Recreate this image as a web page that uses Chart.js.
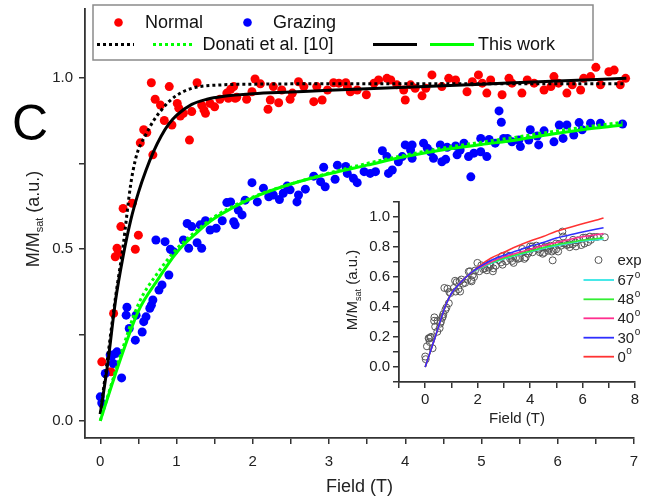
<!DOCTYPE html>
<html><head><meta charset="utf-8">
<script src="https://cdn.jsdelivr.net/npm/chart.js@4.4.1/dist/chart.umd.min.js"></script>
<style>
html,body{margin:0;padding:0;background:#fff;}
#wrap{position:relative;width:653px;height:498px;overflow:hidden;background:#fff;}
#main{position:absolute;left:0;top:0;width:653px;height:498px;}
#inset{position:absolute;left:340px;top:190px;width:313px;height:250px;}
</style></head><body>
<div id="wrap"><canvas id="main" width="653" height="498"></canvas><canvas id="inset" width="313" height="250"></canvas></div>
<script>
// ---------- Main panel data ----------
const normalField = [0.02,0.14,0.175,0.197,0.22,0.24,0.27,0.30,0.42,0.46,0.50,0.525,0.57,0.61,0.69,0.67,0.72,0.79,0.84,0.905,0.94,1.01,1.03,1.05,1.09,1.17,1.20,1.27,1.33,1.36,1.38,1.44,1.50,1.57,1.66,1.68,1.71,1.75,1.77,1.79,1.92,1.99,2.03,2.10,2.20,2.23,2.27,2.34,2.38,2.49,2.52,2.60,2.67,2.80,2.84,2.91,2.98,3.06,3.13,3.22,3.24,3.28,3.37,3.49,3.59,3.65,3.76,3.81,3.89,3.98,4.00,4.07,4.13,4.22,4.27,4.35,4.48,4.57,4.66,4.81,4.88,4.96,5.01,5.07,5.12,5.27,5.36,5.40,5.53,5.60,5.69,5.82,5.91,5.95,6.01,6.12,6.19,6.30,6.34,6.43,6.50,6.56,6.67,6.74,6.82,6.89];
const normalM = [0.172,0.143,0.313,0.478,0.503,0.488,0.566,0.619,0.634,0.50,0.541,0.81,0.848,0.84,0.775,0.985,0.937,0.92,0.875,0.974,0.862,0.925,0.911,0.888,0.896,0.818,0.901,0.985,0.920,0.906,0.896,0.925,0.915,0.937,0.955,0.94,0.966,0.974,0.94,0.943,0.937,0.959,0.996,0.982,0.908,0.935,0.974,0.927,0.964,0.937,0.955,0.988,0.974,0.93,0.974,0.935,0.964,0.985,0.984,0.985,0.974,0.959,0.964,0.95,0.984,0.993,0.998,0.993,0.979,0.964,0.935,0.979,0.969,0.947,0.969,1.008,0.974,0.998,0.993,0.959,0.988,1.008,0.984,0.955,0.993,0.95,0.998,0.984,0.955,0.993,0.984,0.964,0.974,1.003,0.984,0.955,0.979,0.964,0.998,1.003,1.03,0.979,1.017,1.022,0.979,0.998];

const grazingField = [0.00,0.02,0.066,0.13,0.15,0.17,0.20,0.22,0.28,0.35,0.34,0.38,0.46,0.47,0.55,0.57,0.60,0.65,0.67,0.69,0.77,0.81,0.90,0.73,0.85,0.92,0.96,1.09,1.16,1.14,1.20,1.27,1.31,1.33,1.38,1.44,1.52,1.60,1.66,1.71,1.75,1.77,1.81,1.86,1.90,1.99,2.06,2.14,2.21,2.27,2.35,2.40,2.45,2.49,2.58,2.60,2.69,2.80,2.89,2.93,2.95,3.08,3.11,3.22,3.24,3.32,3.37,3.46,3.54,3.61,3.70,3.76,3.78,3.83,3.91,3.96,4.00,4.09,4.07,4.09,4.24,4.29,4.33,4.37,4.46,4.48,4.53,4.55,4.66,4.68,4.72,4.77,4.83,4.86,4.90,4.99,4.99,5.07,5.10,5.18,5.23,5.26,5.29,5.34,5.40,5.49,5.51,5.62,5.64,5.73,5.75,5.82,5.95,6.02,6.07,6.12,6.21,6.28,6.32,6.43,6.56,6.85];
const grazingM = [0.070,0.052,0.138,0.192,0.189,0.167,0.196,0.201,0.125,0.331,0.308,0.269,0.235,0.308,0.259,0.289,0.303,0.328,0.337,0.352,0.381,0.396,0.425,0.527,0.522,0.50,0.493,0.527,0.503,0.575,0.566,0.519,0.571,0.503,0.583,0.556,0.561,0.583,0.636,0.638,0.580,0.571,0.614,0.60,0.643,0.694,0.638,0.678,0.653,0.658,0.645,0.663,0.684,0.673,0.638,0.658,0.675,0.713,0.697,0.739,0.682,0.704,0.745,0.741,0.721,0.707,0.694,0.726,0.721,0.726,0.787,0.770,0.721,0.731,0.755,0.770,0.804,0.804,0.789,0.765,0.809,0.794,0.784,0.765,0.804,0.755,0.762,0.797,0.801,0.775,0.789,0.809,0.770,0.711,0.780,0.784,0.823,0.770,0.820,0.809,0.903,0.870,0.823,0.823,0.813,0.818,0.799,0.818,0.848,0.830,0.804,0.845,0.813,0.862,0.823,0.862,0.833,0.869,0.848,0.867,0.867,0.865];

// Donati et al. [10] (dotted)
const donatiNormalField = [0,0.1,0.2,0.3,0.4,0.46,0.5,0.6,0.7,0.8,0.9,1.0,1.2,1.6,2,3,4,5,6,6.9];
const donatiNormal      = [0.02,0.19,0.36,0.51,0.69,0.76,0.79,0.835,0.875,0.905,0.93,0.948,0.969,0.979,0.981,0.982,0.982,0.982,0.982,0.982];
const donatiGrazingField = [0,0.25,0.5,0.75,1,1.25,1.5,2,2.5,3,3.5,4,4.5,5,5.5,6,6.5,6.85];
const donatiGrazing      = [0,0.18,0.34,0.43,0.5,0.552,0.595,0.652,0.69,0.722,0.75,0.774,0.795,0.812,0.828,0.845,0.86,0.87];
// This work (solid)
const workNormalField = [0,0.1,0.2,0.3,0.4,0.5,0.6,0.7,0.8,0.9,1.0,1.2,1.4,1.6,2.0,2.5,3,4,5,6,6.9];
const workNormal      = [0.02,0.17,0.35,0.48,0.585,0.665,0.73,0.785,0.83,0.865,0.89,0.922,0.937,0.945,0.953,0.958,0.963,0.972,0.981,0.99,0.998];
const workGrazingField = [0,0.25,0.5,0.75,1,1.25,1.5,2,2.5,3,3.5,4,4.5,5,5.5,6,6.5,6.85];
const workGrazing      = [0,0.17,0.32,0.41,0.49,0.545,0.59,0.65,0.69,0.72,0.745,0.77,0.79,0.805,0.82,0.838,0.853,0.862];

const mainXTicks = [0,0.5,1,1.5,2,2.5,3,3.5,4,4.5,5,5.5,6,6.5,7];
const mainYTicks = [0,0.25,0.5,0.75,1.0];

// ---------- Inset data ----------
const insetField = [0,0.2,0.4,0.6,0.8,1.0,1.2,1.5,1.8,2.0,2.5,3.0,3.5,4.0,4.5,5.0,5.5,6.0,6.5,6.8];
const inset0  = [0,0.105,0.21,0.32,0.42,0.49,0.535,0.59,0.635,0.665,0.725,0.765,0.805,0.84,0.87,0.905,0.93,0.955,0.978,0.993];
const inset30 = [0,0.105,0.21,0.32,0.42,0.49,0.535,0.59,0.635,0.66,0.71,0.745,0.775,0.805,0.83,0.86,0.88,0.90,0.918,0.928];
const inset40 = [0,0.105,0.21,0.32,0.42,0.49,0.535,0.59,0.635,0.655,0.70,0.735,0.76,0.785,0.81,0.83,0.85,0.868,0.882,0.89];
const inset48 = [0,0.105,0.21,0.32,0.42,0.49,0.535,0.59,0.635,0.652,0.695,0.725,0.75,0.772,0.795,0.815,0.83,0.845,0.855,0.862];
const inset67 = [0,0.105,0.21,0.32,0.42,0.49,0.535,0.59,0.635,0.65,0.69,0.72,0.745,0.768,0.79,0.808,0.825,0.84,0.848,0.851];
const insetXTicks = [-1,0,1,2,3,4,5,6,7,8];
const insetYTicks = [-0.1,0,0.1,0.2,0.3,0.4,0.5,0.6,0.7,0.8,0.9,1.0,1.1];

const FONT = '"Liberation Sans", Arial, Helvetica, sans-serif';
const zip = (xs, ys) => xs.map((x, i) => ({x: x, y: ys[i]}));

function pts(xs, ys, color, r) {
  return {data: zip(xs, ys), showLine: false, pointRadius: r, pointHoverRadius: r,
    pointBackgroundColor: color, pointBorderWidth: 0, backgroundColor: color, borderColor: color};
}
function curve(xs, ys, color, width, dash) {
  return {data: zip(xs, ys), showLine: true, pointRadius: 0, pointHoverRadius: 0,
    borderColor: color, backgroundColor: color, borderWidth: width, borderDash: dash || [],
    cubicInterpolationMode: 'monotone', fill: false};
}

function drawYTitle(ctx, cx, cy, size) {
  ctx.save();
  ctx.translate(cx, cy);
  ctx.rotate(-Math.PI / 2);
  const f = size + 'px ' + FONT;
  const fs = Math.round(size * 0.62) + 'px ' + FONT;
  ctx.font = f; const w1 = ctx.measureText('M/M').width; const w3 = ctx.measureText(' (a.u.)').width;
  ctx.font = fs; const w2 = ctx.measureText('sat').width;
  let x = -(w1 + w2 + w3) / 2;
  const base = size * 0.36;
  ctx.fillStyle = '#222'; ctx.textAlign = 'left'; ctx.textBaseline = 'alphabetic';
  ctx.font = f; ctx.fillText('M/M', x, base); x += w1;
  ctx.font = fs; ctx.fillText('sat', x, base + size * 0.22); x += w2;
  ctx.font = f; ctx.fillText(' (a.u.)', x, base);
  ctx.restore();
}

const mainDecor = {
  id: 'mainDecor',
  afterDraw(chart) {
    const ctx = chart.ctx;
    ctx.save();
    // legend box
    ctx.strokeStyle = '#8a8a8a'; ctx.lineWidth = 1.5;
    ctx.strokeRect(93, 5, 500, 55);
    ctx.font = '18px ' + FONT; ctx.fillStyle = '#111'; ctx.textBaseline = 'middle'; ctx.textAlign = 'left';
    // row 1
    ctx.fillStyle = '#ff0000'; ctx.beginPath(); ctx.arc(118.5, 22.5, 4.3, 0, Math.PI * 2); ctx.fill();
    ctx.fillStyle = '#0000ff'; ctx.beginPath(); ctx.arc(247.5, 22.5, 4.3, 0, Math.PI * 2); ctx.fill();
    ctx.fillStyle = '#111';
    ctx.fillText('Normal', 145, 23);
    ctx.fillText('Grazing', 273, 23);
    // row 2
    const y2 = 44.5;
    ctx.lineWidth = 3;
    ctx.setLineDash([3, 3]);
    ctx.strokeStyle = '#000'; ctx.beginPath(); ctx.moveTo(97, y2); ctx.lineTo(134, y2); ctx.stroke();
    ctx.strokeStyle = '#00ff00'; ctx.beginPath(); ctx.moveTo(153, y2); ctx.lineTo(194, y2); ctx.stroke();
    ctx.setLineDash([]);
    ctx.strokeStyle = '#000'; ctx.beginPath(); ctx.moveTo(373, y2); ctx.lineTo(417, y2); ctx.stroke();
    ctx.strokeStyle = '#00ff00'; ctx.beginPath(); ctx.moveTo(430, y2); ctx.lineTo(474, y2); ctx.stroke();
    ctx.fillText('Donati et al. [10]', 202.5, y2 + 0.5);
    ctx.fillText('This work', 478, y2 + 0.5);
    // panel letter
    ctx.font = '50px ' + FONT; ctx.fillStyle = '#000';
    ctx.fillText('C', 12, 126);
    ctx.restore();
    drawYTitle(ctx, 33, 219, 18);
  }
};

new Chart(document.getElementById('main'), {
  type: 'scatter',
  data: {datasets: [
    curve(workGrazingField, workGrazing, '#00ff00', 3),
    curve(workNormalField, workNormal, '#000000', 3),
    curve(donatiGrazingField, donatiGrazing, '#00ff00', 3, [3, 3]),
    curve(donatiNormalField, donatiNormal, '#000000', 3, [3, 3]),
    pts(grazingField, grazingM, '#0000ff', 4.5),
    pts(normalField, normalM, '#ff0000', 4.5)
  ]},
  options: {
    responsive: false, animation: false, devicePixelRatio: 1,
    layout: {padding: {left: 0, top: 9, right: 19, bottom: 0}},
    plugins: {legend: {display: false}, tooltip: {enabled: false}},
    scales: {
      x: {
        type: 'linear', min: -0.2, max: 7,
        afterBuildTicks: s => { s.ticks = mainXTicks.map(v => ({value: v})); },
        afterFit: s => { s.height = 60; },
        ticks: {font: {size: 15, family: FONT}, color: '#222', padding: 9, maxRotation: 0, autoSkip: false,
          callback: v => (Math.abs(v - Math.round(v)) < 1e-9 ? String(Math.round(v)) : '')},
        grid: {drawOnChartArea: false, drawTicks: true, tickLength: 6, color: '#333', lineWidth: 1.5},
        border: {display: true, color: '#333', width: 1.8},
        title: {display: true, text: 'Field (T)', font: {size: 18, family: FONT}, color: '#222', padding: {top: 0, bottom: 0}}
      },
      y: {
        type: 'linear', min: -0.05, max: 1.2,
        afterBuildTicks: s => { s.ticks = mainYTicks.map(v => ({value: v})); },
        afterFit: s => { s.width = 85; s.paddingTop = 0; s.paddingBottom = 0; },
        ticks: {font: {size: 15, family: FONT}, color: '#222', padding: 6, autoSkip: false,
          callback: v => (Math.abs(v * 2 - Math.round(v * 2)) < 1e-9 ? v.toFixed(1) : '')},
        grid: {drawOnChartArea: false, drawTicks: true, tickLength: 6, color: '#333', lineWidth: 1.5},
        border: {display: true, color: '#333', width: 1.8}
      }
    }
  },
  plugins: [mainDecor]
});

// ---------- Inset ----------
const insetDecor = {
  id: 'insetDecor',
  afterDraw(chart) {
    const ctx = chart.ctx;
    drawYTitle(ctx, 12, 100, 15);
    ctx.save();
    ctx.font = '15px ' + FONT; ctx.fillStyle = '#222'; ctx.textAlign = 'left'; ctx.textBaseline = 'middle';
    ctx.strokeStyle = '#555'; ctx.lineWidth = 1;
    ctx.beginPath(); ctx.arc(258.5, 70, 3.5, 0, Math.PI * 2); ctx.stroke();
    ctx.fillText('exp', 277.5, 71);
    const items = [['67', '#33e6e6', 90], ['48', '#33ee33', 109.3], ['40', '#ff2f8f', 128.3], ['30', '#2f2fff', 147.7], ['0', '#ff3333', 166.7]];
    items.forEach(([lab, col, y]) => {
      ctx.strokeStyle = col; ctx.lineWidth = 1.8;
      ctx.beginPath(); ctx.moveTo(243.5, y); ctx.lineTo(274, y); ctx.stroke();
      ctx.font = '15px ' + FONT; ctx.fillStyle = '#222';
      ctx.fillText(lab, 277.5, y + 1);
      const w = ctx.measureText(lab).width;
      ctx.font = '10px ' + FONT;
      ctx.fillText('o', 277.5 + w + 0.5, y - 5);
    });
    ctx.restore();
  }
};

new Chart(document.getElementById('inset'), {
  type: 'scatter',
  data: {datasets: [
    curve(insetField, inset30, '#2f2fff', 1.5),
    curve(insetField, inset0, '#ff3333', 1.5),
    curve(insetField, inset40, '#ff2f8f', 1.5),
    curve(insetField, inset48, '#33ee33', 1.5),
    curve(insetField, inset67, '#33e6e6', 1.5),
    {data: zip(grazingField, grazingM), showLine: false, pointRadius: 3.5, pointHoverRadius: 3.5,
      pointBackgroundColor: 'rgba(0,0,0,0)', pointBorderColor: '#555', pointBorderWidth: 1}
  ]},
  options: {
    responsive: false, animation: false, devicePixelRatio: 1,
    layout: {padding: {left: 0, top: 7, right: 18, bottom: 0}},
    plugins: {legend: {display: false}, tooltip: {enabled: false}},
    scales: {
      x: {
        type: 'linear', min: -1, max: 8,
        afterBuildTicks: s => { s.ticks = insetXTicks.map(v => ({value: v})); },
        afterFit: s => { s.height = 58; },
        ticks: {font: {size: 15, family: FONT}, color: '#222', padding: 3, maxRotation: 0, autoSkip: false,
          callback: v => (v >= 0 && Math.round(v) % 2 === 0 ? String(Math.round(v)) : '')},
        grid: {drawOnChartArea: false, drawTicks: true, tickLength: 6, color: '#333', lineWidth: 1.5},
        border: {display: true, color: '#333', width: 1.8},
        title: {display: true, text: 'Field (T)', font: {size: 15, family: FONT}, color: '#222', padding: {top: 0, bottom: 12}}
      },
      y: {
        type: 'linear', min: -0.1, max: 1.1,
        afterBuildTicks: s => { s.ticks = insetYTicks.map(v => ({value: v})); },
        afterFit: s => { s.width = 59; },
        ticks: {font: {size: 15, family: FONT}, color: '#222', padding: 3, autoSkip: false,
          callback: v => (Math.round(v * 10) >= 0 && Math.round(v * 10) % 2 === 0 ? v.toFixed(1) : '')},
        grid: {drawOnChartArea: false, drawTicks: true, tickLength: 6, color: '#333', lineWidth: 1.5},
        border: {display: true, color: '#333', width: 1.8}
      }
    }
  },
  plugins: [insetDecor]
});
</script>
</body></html>
